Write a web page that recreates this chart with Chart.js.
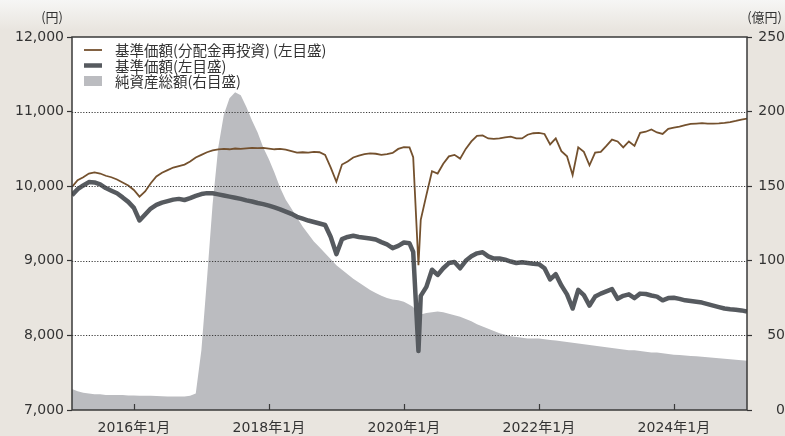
<!DOCTYPE html>
<html lang="ja">
<head>
<meta charset="utf-8">
<title>基準価額・純資産の推移</title>
<script src="https://cdn.jsdelivr.net/npm/chart.js@4.4.1/dist/chart.umd.min.js"></script>
<style>
  html, body { margin: 0; padding: 0; background: #e9e5df; }
  canvas { display: block; }
</style>
</head>
<body>
<canvas id="navChart" width="785" height="436"></canvas>
<script>
// 月次（2020年3月の急落付近のみ日付を追加）
const dates = [
  '2015-02','2015-03','2015-04','2015-05','2015-06','2015-07','2015-08','2015-09','2015-10','2015-11','2015-12',
  '2016-01','2016-02','2016-03','2016-04','2016-05','2016-06','2016-07','2016-08','2016-09','2016-10','2016-11','2016-12',
  '2017-01','2017-02','2017-03','2017-04','2017-05','2017-06','2017-07','2017-08','2017-09','2017-10','2017-11','2017-12',
  '2018-01','2018-02','2018-03','2018-04','2018-05','2018-06','2018-07','2018-08','2018-09','2018-10','2018-11','2018-12',
  '2019-01','2019-02','2019-03','2019-04','2019-05','2019-06','2019-07','2019-08','2019-09','2019-10','2019-11','2019-12',
  '2020-01','2020-02','2020-02-21','2020-03-19','2020-04','2020-05','2020-06','2020-07','2020-08','2020-09','2020-10','2020-11','2020-12',
  '2021-01','2021-02','2021-03','2021-04','2021-05','2021-06','2021-07','2021-08','2021-09','2021-10','2021-11','2021-12',
  '2022-01','2022-02','2022-03','2022-04','2022-05','2022-06','2022-07','2022-08','2022-09','2022-10','2022-11','2022-12',
  '2023-01','2023-02','2023-03','2023-04','2023-05','2023-06','2023-07','2023-08','2023-09','2023-10','2023-11','2023-12',
  '2024-01','2024-02','2024-03','2024-04','2024-05','2024-06','2024-07','2024-08','2024-09','2024-10','2024-11','2024-12',
  '2025-01','2025-02'
];

// 基準価額(分配金再投資)（円）
const navReinvested = [
  9990, 10080, 10120, 10170, 10185, 10170, 10140, 10120, 10090, 10050, 10010,
  9950, 9860, 9930, 10040, 10130, 10180, 10215, 10250, 10270, 10290, 10330, 10385,
  10420, 10455, 10480, 10495, 10500, 10495, 10505, 10500, 10507, 10515, 10510, 10515,
  10505, 10495, 10500, 10490, 10470, 10450, 10455, 10450, 10460, 10455, 10420, 10250,
  10060, 10290, 10330, 10385, 10410, 10430, 10440, 10435, 10420, 10430, 10445, 10500,
  10525, 10520, 10390, 8940, 9550, 9880, 10200, 10170, 10300, 10400, 10420, 10370, 10500,
  10600, 10675, 10680, 10640, 10635, 10640, 10655, 10665, 10640, 10640, 10690, 10710,
  10715, 10700, 10560, 10640, 10470, 10400, 10150, 10520, 10460, 10280, 10450, 10460,
  10540, 10625, 10600, 10520, 10600, 10540, 10715, 10730, 10760, 10720, 10700, 10770,
  10785, 10800, 10820, 10835, 10840, 10845, 10838, 10840, 10842, 10850, 10860, 10875,
  10893, 10905
];

// 基準価額（円）
const nav = [
  9880, 9960, 10010, 10055, 10050, 10025, 9975, 9940, 9905, 9850, 9790,
  9710, 9540, 9620, 9700, 9750, 9780, 9800, 9820, 9830, 9815, 9840, 9870,
  9895, 9907, 9905, 9890, 9875, 9860, 9845, 9830, 9810, 9795, 9775, 9760,
  9740, 9715, 9690, 9660, 9630, 9590, 9565, 9540, 9520, 9500, 9480, 9320,
  9090, 9290, 9320, 9335, 9320, 9310, 9300, 9285, 9250, 9220, 9170, 9200,
  9245, 9235, 9120, 7790, 8530, 8650, 8880, 8810, 8900, 8970, 8985, 8900, 9000,
  9060, 9100, 9115, 9060, 9030, 9030, 9015, 8990, 8970, 8980, 8970, 8960,
  8955, 8900, 8750, 8820, 8670, 8550, 8360, 8610, 8540, 8400, 8520, 8560,
  8590, 8620, 8490, 8530, 8550, 8500, 8560, 8555, 8535, 8520, 8470, 8500,
  8505, 8490, 8470, 8460, 8450, 8440, 8420, 8400, 8380, 8360, 8350, 8345,
  8335, 8320
];

// 純資産総額（億円）
const netAssets = [
  14, 12.5, 11.5, 11, 10.5, 10.5, 10, 10, 10, 10, 9.8,
  9.7, 9.5, 9.5, 9.5, 9.3, 9.2, 9, 9, 9, 9, 9.5, 11,
  40, 88, 138, 176, 198, 209, 213, 211, 203, 194, 186, 176,
  168, 159, 149, 141, 135, 129, 123, 118, 113, 109, 105, 101,
  97, 94, 91, 88, 85.5, 83, 80.5, 78.5, 76.5, 75, 74, 73.5,
  72.5, 70.5, 69, 62, 64, 65, 65.5, 66, 65.5, 64.5, 63.5, 62.5, 61,
  59.5, 57.5, 56, 54.5, 53, 51.5, 50.5, 49.5, 49, 48.5, 48, 48,
  48, 47.5, 47, 46.5, 46, 45.5, 45, 44.5, 44, 43.5, 43, 42.5,
  42, 41.5, 41, 40.5, 40, 40, 39.5, 39, 38.5, 38.5, 38, 37.5,
  37, 36.8, 36.5, 36.2, 36, 35.7, 35.4, 35, 34.7, 34.4, 34, 33.7,
  33.4, 33
];

const xTickYears = [2016, 2018, 2020, 2022, 2024];
const xTickLabels = ['2016年1月', '2018年1月', '2020年1月', '2022年1月', '2024年1月'];
const seriesLabels = ['基準価額(分配金再投資) (左目盛)', '基準価額(左目盛)', '純資産総額(右目盛)'];

function toX(s) {
    const p = s.split('-').map(Number);
    return p[0] + (p[1] - 1) / 12 + ((p[2] || 1) - 1) / 365;
}

function points(values) {
    return dates.map((d, i) => ({ x: toX(d), y: values[i] }));
}

const brown = '#74512e';
const darkGray = '#565a5f';
const areaGray = '#bbbcc0';
const textColor = '#333333';

const backgroundPlugin = {
    id: 'background',
    beforeDraw(chart) {
        const { ctx, chartArea: a, width, height } = chart;
        ctx.save();
        const g = ctx.createLinearGradient(0, 0, 0, 30);
        g.addColorStop(0, '#f6f6f5');
        g.addColorStop(1, '#e9e5df');
        ctx.fillStyle = g;
        ctx.fillRect(0, 0, width, height);
        ctx.fillStyle = '#ffffff';
        ctx.fillRect(a.left, a.top, a.right - a.left, a.bottom - a.top);
        ctx.restore();
    }
};

// 点線の目盛線は面グラフの上に描く
const gridPlugin = {
    id: 'dottedGrid',
    afterDatasetsDraw(chart) {
        const { ctx, chartArea: a, scales } = chart;
        ctx.save();
        ctx.strokeStyle = '#3c3c3c';
        ctx.lineWidth = 1.2;
        ctx.setLineDash([1.2, 1.6]);
        scales.y.ticks.forEach(t => {
            if (t.value <= scales.y.min || t.value >= scales.y.max) return;
            const py = Math.round(scales.y.getPixelForValue(t.value)) + 0.5;
            ctx.beginPath();
            ctx.moveTo(a.left, py);
            ctx.lineTo(a.right, py);
            ctx.stroke();
        });
        ctx.restore();
    }
};

const framePlugin = {
    id: 'frame',
    afterDraw(chart) {
        const { ctx, chartArea: a, scales } = chart;
        ctx.save();
        ctx.strokeStyle = '#3a3a3a';
        ctx.lineWidth = 1.5;
        ctx.strokeRect(a.left, a.top, a.right - a.left, a.bottom - a.top);

        // x軸の内向き目盛
        ctx.lineWidth = 1.2;
        xTickYears.forEach(v => {
            const px = Math.round(scales.x.getPixelForValue(v)) + 0.5;
            ctx.beginPath();
            ctx.moveTo(px, a.bottom);
            ctx.lineTo(px, a.bottom - 6);
            ctx.stroke();
        });

        // 単位
        ctx.fillStyle = textColor;
        ctx.font = '13px "Noto Sans CJK JP", sans-serif';
        ctx.textBaseline = 'middle';
        ctx.textAlign = 'right';
        ctx.fillText('(円)', 63, 17);
        ctx.fillText('(億円)', 782, 17);

        // 凡例
        const lx = 84, tx = 115;
        const rows = [50, 65.5, 81];
        ctx.textAlign = 'left';
        ctx.font = '14.5px "Noto Sans CJK JP", sans-serif';
        chart.data.datasets.forEach((ds, i) => {
            const y = rows[i];
            if (ds.fill) {
                ctx.fillStyle = ds.backgroundColor;
                ctx.fillRect(lx, y - 5, 18, 10);
            } else {
                ctx.strokeStyle = ds.borderColor;
                ctx.lineWidth = ds.borderWidth;
                ctx.beginPath();
                ctx.moveTo(lx, y);
                ctx.lineTo(lx + 18, y);
                ctx.stroke();
            }
            ctx.fillStyle = textColor;
            ctx.fillText(ds.label, tx, y + 0.5);
        });
        ctx.restore();
    }
};

document.addEventListener("DOMContentLoaded", function () {
    Chart.defaults.font.family = '"DejaVu Sans", "Noto Sans CJK JP", sans-serif';
    Chart.defaults.font.size = 14;
    Chart.defaults.color = textColor;

    const ctx = document.getElementById('navChart').getContext('2d');
    new Chart(ctx, {
        type: 'line',
        data: {
            datasets: [{
                label: seriesLabels[0],
                data: points(navReinvested),
                yAxisID: 'y',
                borderColor: brown,
                borderWidth: 1.8,
                pointRadius: 0,
                tension: 0,
                fill: false
            }, {
                label: seriesLabels[1],
                data: points(nav),
                yAxisID: 'y',
                borderColor: darkGray,
                borderWidth: 4.5,
                borderJoinStyle: 'round',
                pointRadius: 0,
                tension: 0,
                fill: false
            }, {
                label: seriesLabels[2],
                data: points(netAssets),
                yAxisID: 'y1',
                backgroundColor: areaGray,
                borderColor: areaGray,
                borderWidth: 0,
                pointRadius: 0,
                tension: 0,
                fill: 'origin'
            }]
        },
        options: {
            responsive: false,
            animation: false,
            devicePixelRatio: 1,
            layout: { padding: { top: 37, left: 0, right: 0, bottom: 0 } },
            plugins: {
                legend: { display: false },
                tooltip: { enabled: false }
            },
            scales: {
                x: {
                    type: 'linear',
                    min: toX('2015-02'),
                    max: toX('2025-02'),
                    afterBuildTicks: function (scale) {
                        scale.ticks = xTickYears.map(v => ({ value: v }));
                    },
                    afterFit: function (scale) { scale.height = 26; },
                    grid: { display: false, drawTicks: false, tickLength: 0 },
                    border: { display: false },
                    ticks: {
                        autoSkip: false,
                        maxRotation: 0,
                        padding: 10,
                        callback: function (value) {
                            const i = xTickYears.indexOf(value);
                            return i >= 0 ? xTickLabels[i] : '';
                        }
                    }
                },
                y: {
                    position: 'left',
                    min: 7000,
                    max: 12000,
                    afterFit: function (scale) { scale.width = 72; },
                    grid: {
                        drawOnChartArea: false,
                        tickLength: 5,
                        tickColor: '#333',
                        tickWidth: 1.2
                    },
                    border: { display: false },
                    ticks: {
                        stepSize: 1000,
                        padding: 3,
                        callback: function (value) {
                            return value.toLocaleString('en-US');
                        }
                    }
                },
                y1: {
                    position: 'right',
                    min: 0,
                    max: 250,
                    afterFit: function (scale) { scale.width = 38; },
                    grid: {
                        drawOnChartArea: false,
                        tickLength: 5,
                        tickColor: '#333',
                        tickWidth: 1.2
                    },
                    border: { display: false },
                    ticks: {
                        stepSize: 50,
                        padding: 4,
                        crossAlign: 'far'
                    }
                }
            }
        },
        plugins: [backgroundPlugin, gridPlugin, framePlugin]
    });
});
</script>
</body>
</html>
